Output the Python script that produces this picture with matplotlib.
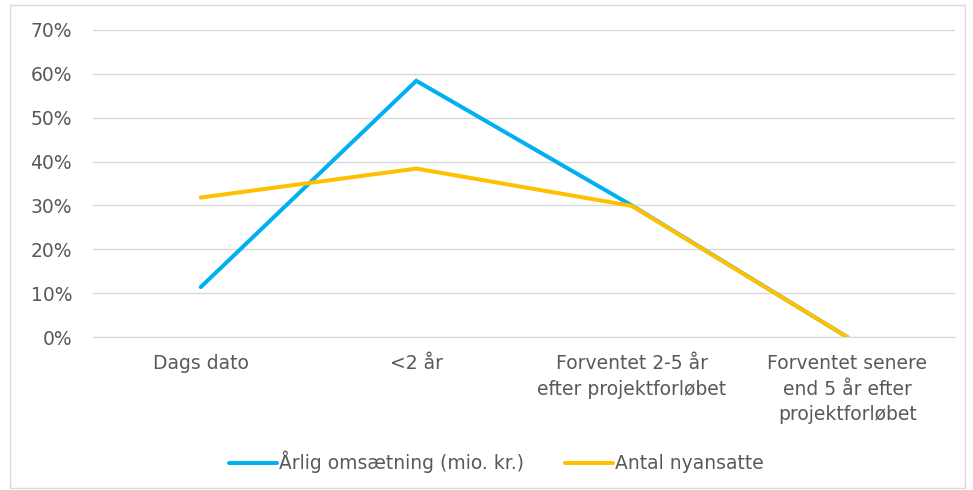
import matplotlib
matplotlib.use("Agg")
import matplotlib.pyplot as plt
from matplotlib.patches import Rectangle
from matplotlib.ticker import PercentFormatter

categories = [
    "Dags dato",
    "<2 år",
    "Forventet 2-5 år\nefter projektforløbet",
    "Forventet senere\nend 5 år efter\nprojektforløbet",
]
omsaetning = [0.114, 0.584, 0.30, 0.0]
nyansatte = [0.318, 0.384, 0.299, 0.0]

blue = "#00B0F0"
orange = "#FFC000"
text_gray = "#595959"
grid_gray = "#D9D9D9"

fig = plt.figure(figsize=(9.73, 4.90), dpi=100)
ax = fig.add_axes([0.0956, 0.312, 0.886, 0.627])

x = range(len(categories))
ax.plot(x, omsaetning, color=blue, lw=2.9, solid_capstyle="round",
        solid_joinstyle="miter", label="Årlig omsætning (mio. kr.)")
ax.plot(x, nyansatte, color=orange, lw=2.9, solid_capstyle="round",
        solid_joinstyle="miter", label="Antal nyansatte")

ax.set_xlim(-0.5, len(categories) - 0.5)
ax.set_ylim(0, 0.7)
ax.set_yticks([i / 10 for i in range(8)])
ax.yaxis.set_major_formatter(PercentFormatter(1.0, decimals=0))
ax.set_xticks(list(x))
ax.set_xticklabels(categories, linespacing=1.45)

ax.grid(axis="y", color=grid_gray, lw=1)
ax.set_axisbelow(True)
for side in ["top", "right", "left"]:
    ax.spines[side].set_visible(False)
ax.spines["bottom"].set_color(grid_gray)
ax.tick_params(axis="both", length=0, labelsize=13.5, colors=text_gray)
ax.tick_params(axis="y", pad=15)
ax.tick_params(axis="x", pad=12)

fig.legend(loc="center", bbox_to_anchor=(0.510, 0.057), ncol=2, frameon=False,
           fontsize=13.5, handlelength=2.55, handletextpad=0.1,
           columnspacing=2.2, labelcolor=text_gray)

fig.patches.append(Rectangle((0.010, 0.004), 0.982, 0.986, transform=fig.transFigure,
                             fill=False, edgecolor=grid_gray, lw=1))

fig.savefig("out.png", dpi=100)
